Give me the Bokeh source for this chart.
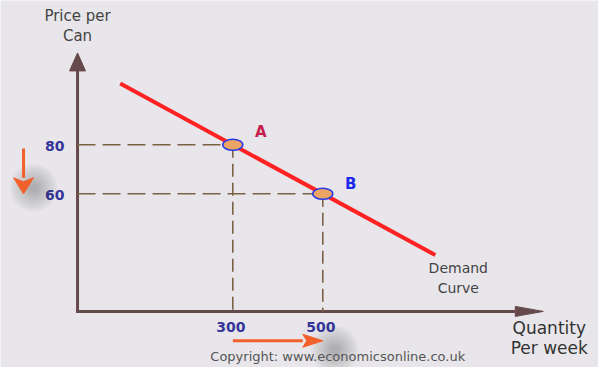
from bokeh.plotting import figure
from bokeh.models import Range1d
from bokeh.core.properties import value
from bokeh.embed import file_html
from bokeh.resources import INLINE

# ---------------- data ----------------
point_names = ["A", "B"]
quantity = [300, 500]          # quantity per week at A and B
price = [80, 60]               # price per can at A and B
demand_q = [50, 750]           # demand curve end points (quantity)
demand_p = [105, 35]           # demand curve end points (price)
x_tick_labels = ["300", "500"]
y_tick_labels = ["80", "60"]
price_change = [80, 60]        # price falls from 80 to 60
qty_change = [300, 500]        # quantity rises from 300 to 500

# ---------------- layout ----------------
W, H = 598, 367
X0, X1 = -216.2, 1112.7
Y0, Y1 = -10.9, 138.9
PXX = W / (X1 - X0)            # px per quantity unit
PXY = H / (Y1 - Y0)            # px per price unit
AX_X, AX_Y = -45.0, 12.0       # where the two axes cross
Y_TIP, X_TIP = 117.5, 990.0    # arrow tips of the axes
V_ARROW_X = -165.0             # x of the orange price arrow
H_ARROW_Y = 0.0                # y of the orange quantity arrow

BG = "#E8E6EA"
AXIS_C = "#66494A"
DASH_C = "#7A6245"
TICK_C = "#35359A"
TEXT_C = "#444444"
ORANGE = "#F2612A"
FONT = value("DejaVu Sans")

p = figure(width=W, height=H, x_range=Range1d(X0, X1), y_range=Range1d(Y0, Y1),
           output_backend="svg", toolbar_location=None,
           x_axis_type=None, y_axis_type=None, min_border=0)
p.background_fill_color = BG
p.border_fill_color = BG
p.outline_line_color = None
p.grid.visible = False


def head(tx, ty, direction, length, width, notch=0.0):
    """Arrow head polygon (sizes in px) with tip at data point (tx, ty)."""
    if direction == "up":
        L, hw, n = length / PXY, width / 2 / PXX, notch / PXY
        return [tx, tx - hw, tx, tx + hw], [ty, ty - L, ty - L + n, ty - L]
    if direction == "down":
        L, hw, n = length / PXY, width / 2 / PXX, notch / PXY
        return [tx, tx - hw, tx, tx + hw], [ty, ty + L, ty + L - n, ty + L]
    L, hw, n = length / PXX, width / 2 / PXY, notch / PXX
    return [tx, tx - L, tx - L + n, tx - L], [ty, ty + hw, ty, ty - hw]


# ---- axes with arrow heads ----
yl, xl = 18, 28
p.segment(x0=[AX_X, AX_X - 1.5 / PXX], y0=[AX_Y, AX_Y],
          x1=[AX_X, X_TIP - xl / PXX], y1=[Y_TIP - yl / PXY, AX_Y],
          line_color=AXIS_C, line_width=3)
hx1, hy1 = head(AX_X, Y_TIP, "up", yl, 16)
hx2, hy2 = head(X_TIP, AX_Y, "right", xl, 10)
p.patches(xs=[hx1, hx2], ys=[hy1, hy2], fill_color=AXIS_C, line_color=AXIS_C, line_width=1)

# ---- dashed guide lines ----
p.segment(x0=[AX_X] * len(price), y0=price, x1=quantity, y1=price,
          line_color=DASH_C, line_width=1.6, line_dash="18 7")
p.segment(x0=quantity, y0=price, x1=quantity, y1=[AX_Y] * len(quantity),
          line_color=DASH_C, line_width=1.6, line_dash="13 6")

# ---- demand curve ----
p.line(demand_q, demand_p, line_color="#FF2222", line_width=4)

# ---- points A and B ----
p.ellipse(x=quantity, y=price, width=20, height=11, width_units="screen",
          height_units="screen", fill_color="#EBA464", line_color="#2A3CE8",
          line_width=1.6)
p.text(x=quantity[:1], y=price[:1], text=point_names[:1], x_offset=28, y_offset=-13,
       text_align="center", text_baseline="middle", text_font=FONT,
       text_font_style="bold", text_font_size="15px", text_color="#C41E4E")
p.text(x=quantity[1:], y=price[1:], text=point_names[1:], x_offset=28, y_offset=-10,
       text_align="center", text_baseline="middle", text_font=FONT,
       text_font_style="bold", text_font_size="15px", text_color="#1E28EA")

# ---- tick labels ----
p.text(x=[AX_X] * len(price), y=price, text=y_tick_labels, x_offset=-13, y_offset=1,
       text_align="right", text_baseline="middle", text_font=FONT,
       text_font_style="bold", text_font_size="14px", text_color=TICK_C)
p.text(x=quantity, y=[AX_Y] * len(quantity), text=x_tick_labels, x_offset=-2, y_offset=16,
       text_align="center", text_baseline="middle", text_font=FONT,
       text_font_style="bold", text_font_size="14px", text_color=TICK_C)

# ---- orange change arrows with soft shadows ----
for s in range(48, 6, -4):
    p.scatter(x=[qty_change[1] + 12 / PXX], y=[H_ARROW_Y - 9 / PXY], size=s,
              marker="circle", fill_color="#222222", fill_alpha=0.028, line_color=None)
    p.scatter(x=[V_ARROW_X + 10 / PXX], y=[price_change[1] + 6 / PXY], size=s,
              marker="circle", fill_color="#222222", fill_alpha=0.028, line_color=None)

hl_h, hl_v = 20, 16
p.segment(x0=[qty_change[0], V_ARROW_X], y0=[H_ARROW_Y, price_change[0] - 1.5],
          x1=[qty_change[1] - hl_h / PXX, V_ARROW_X], y1=[H_ARROW_Y, price_change[1] + hl_v / PXY],
          line_color=ORANGE, line_width=3)
ax1, ay1 = head(qty_change[1], H_ARROW_Y, "right", hl_h, 13, 4)
ax2, ay2 = head(V_ARROW_X, price_change[1], "down", hl_v, 20, 4)
p.patches(xs=[ax1, ax2], ys=[ay1, ay2], fill_color=ORANGE, line_color=ORANGE, line_width=1)

# ---- texts ----
p.text(x=[AX_X], y=[Y1], text=["Price per\nCan"], y_offset=6,
       text_align="center", text_baseline="top", text_font=FONT,
       text_font_size="15px", text_color=TEXT_C, text_line_height=1.15)
p.text(x=[X_TIP], y=[AX_Y], text=["Quantity\nPer week"], x_offset=6, y_offset=27,
       text_align="center", text_baseline="middle", text_font=FONT,
       text_font_size="17px", text_color="#333333", text_line_height=1.0)
p.text(x=demand_q[1:], y=demand_p[1:], text=["Demand\nCurve"], x_offset=23, y_offset=23,
       text_align="center", text_baseline="middle", text_font=FONT,
       text_font_size="14px", text_color=TEXT_C, text_line_height=1.2)
p.text(x=[sum(quantity) / 2], y=[Y0], text=["Copyright: www.economicsonline.co.uk"],
       x_offset=60, y_offset=-11, text_align="center", text_baseline="alphabetic",
       text_font=FONT, text_font_size="13px", text_color="#555555")

open("out.html", "w").write(file_html(p, INLINE))
